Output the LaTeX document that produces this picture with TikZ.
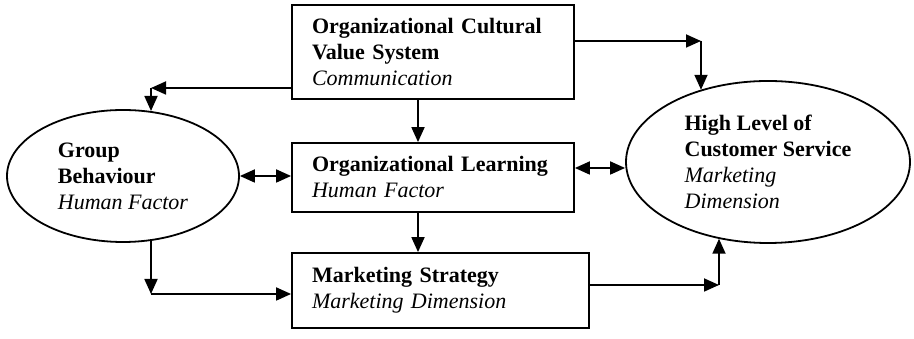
\documentclass[tikz,border=0pt]{standalone}
\usepackage{fontspec}
\setmainfont{Liberation Serif}
\usepackage{tikz}
\usetikzlibrary{shapes.geometric}
\usetikzlibrary{arrows.meta,calc,positioning}
\tikzstyle{diag}=[
  >={Triangle[length=15pt,width=13pt]}, line width=1.8pt, x=1pt, y=1pt,
  font=\fontsize{22}{26}\selectfont
]
\tikzstyle{factorbox}=[
  draw, rectangle, inner xsep=20pt, inner ysep=0pt, align=left
]
\tikzstyle{factorell}=[
  draw, ellipse, inner sep=0pt, align=left
]
\tikzstyle{link}=[->]
\tikzstyle{twoway}=[<->]

\begin{document}
\begin{tikzpicture}[diag]
    \useasboundingbox (0,0) rectangle (914,339);
    \node (ocvs) at (433,287) [factorbox, text width=242pt, minimum height=94pt]
      {\textbf{Organizational Cultural}\\ \textbf{Value System}\\ \textit{Communication}};
    \node (learn) at (433,161.5) [factorbox, text width=242pt, minimum height=69pt]
      {\textbf{Organizational Learning}\\ \textit{Human Factor}};
    \node (strat) at (440.5,48.5) [factorbox, text width=257pt, minimum height=75pt]
      {\textbf{Marketing Strategy}\\ \textit{Marketing Dimension}};
    \node (group) at (123,163) [factorell, minimum width=232pt, minimum height=132pt]
      {\textbf{Group}\\ \textbf{Behaviour}\\ \textit{Human Factor}};
    \node (service) at (768,177) [factorell, minimum width=284pt, minimum height=162pt]
      {\textbf{High Level of}\\ \textbf{Customer Service}\\ \textit{Marketing}\\ \textit{Dimension}};
    \coordinate (c1) at (151,251);
    \coordinate (c2) at (701,298);
    \coordinate (c3) at (151,45);
    \coordinate (c4) at (719,54);
    \coordinate (r5) at ($(learn.east)+(0,9.5)$);
    \draw [link] (ocvs.west |- c1) -- (c1);
    \draw [link] (c1) -- (c1 |- group.67);
    \draw [link] (ocvs.east |- c2) -- (c2);
    \draw [link] (c2) -- (c2 |- service.133);
    \draw [link] ($(ocvs.south)+(-15,0)$) -- ($(learn.north)+(-15,0)$);
    \draw [link] ($(learn.south)+(-15,0)$) -- ($(strat.north)+(-22.5,0)$);
    \draw [twoway] (group.east) -- (group.east -| learn.west);
    \draw [twoway] (r5) -- (r5 -| service.west);
    \draw [link] (c3 |- group.293) -- (c3);
    \draw [link] (c3) -- (c3 -| strat.west);
    \draw [link] (strat.east |- c4) -- (c4);
    \draw [link] (c4) -- (c4 |- service.237);
\end{tikzpicture}
\end{document}
